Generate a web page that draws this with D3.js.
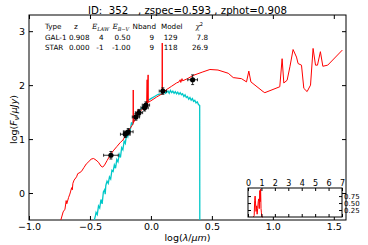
<!DOCTYPE html>
<html>
<head>
<meta charset="utf-8">
<script src="https://cdnjs.cloudflare.com/ajax/libs/d3/7.8.5/d3.min.js"></script>
<style>
body { margin: 0; background: #fff; }
text { font-family: "DejaVu Sans", sans-serif; fill: #000; }
</style>
</head>
<body>
<div id="sed"></div>
<script>
// title + fit summary table
var titleText = "ID:  352   , zspec=0.593 , zphot=0.908";
var tableHead = ["Type", "z", "E_LAW", "E_B-V", "Nband", "Model", "χ2"];
var rowGal = ["GAL-1", "0.908", "4", "0.50", "9", "129", "7.8"];
var rowStar = ["STAR", "0.000", "-1", "-1.00", "9", "118", "26.9"];

// axis ticks
var xTicks = [-1.0, -0.5, 0.0, 0.5, 1.0, 1.5];
var yTicks = [0, 1, 2, 3];
var pzTicksX = [0, 1, 2, 3, 4, 5, 6, 7];
var pzTicksY = [0.25, 0.50, 0.75];

// best-fit galaxy template (log lambda, log flux)
var galX = [-0.745, -0.72, -0.705, -0.695, -0.69, -0.675, -0.665, -0.66, -0.65, -0.645, -0.64, -0.63,
    -0.61, -0.6, -0.59, -0.57, -0.55, -0.53, -0.51, -0.49, -0.47, -0.45, -0.43, -0.41, -0.395,
    -0.38, -0.36, -0.34, -0.31, -0.28, -0.25, -0.23, -0.21, -0.19, -0.17, -0.155, -0.146, -0.145,
    -0.144, -0.13, -0.12, -0.115, -0.11, -0.105, -0.1, -0.08, -0.06, -0.035, -0.031, -0.029,
    -0.023, -0.021, 0.0, 0.047, 0.092, 0.093, 0.094, 0.13, 0.17, 0.21, 0.23, 0.24, 0.245, 0.255,
    0.26, 0.3, 0.347, 0.42, 0.484, 0.55, 0.634, 0.675, 0.743, 0.784, 0.803, 0.82, 0.92, 0.934,
    1.057, 1.076, 1.09, 1.117, 1.14, 1.166, 1.194, 1.207, 1.235, 1.254, 1.281, 1.309, 1.33, 1.35,
    1.366, 1.39, 1.41, 1.45, 1.57];
var galY = [-0.55, -0.35, -0.3, -0.14, -0.2, -0.08, -0.02, 0.02, 0.1, 0.06, 0.18, 0.24,
    0.3, 0.36, 0.37, 0.4, 0.47, 0.54, 0.58, 0.63, 0.64, 0.61, 0.57, 0.5, 0.48,
    0.52, 0.6, 0.68, 0.78, 0.86, 0.94, 0.98, 1.06, 1.12, 1.2, 1.25, 1.28, 1.91,
    1.3, 1.36, 1.4, 1.5, 1.42, 1.55, 1.46, 1.53, 1.6, 1.65, 2.1, 1.66,
    2.19, 1.68, 1.71, 1.78, 1.84, 2.78, 1.85, 1.92, 1.98, 2.04, 2.06, 2.1, 2.05, 2.12,
    2.08, 2.12, 2.18, 2.24, 2.29, 2.28, 2.22, 2.14, 2.12, 2.06, 2.26, 2.06, 1.88, 1.86,
    1.97, 2.49, 2.04, 2.09, 2.34, 2.66, 2.52, 2.4, 2.37, 1.94, 1.88, 2.0, 2.68, 2.37,
    2.37, 2.62, 2.35, 2.37, 2.65];

// best-fit star template
var starX = [-0.47, -0.455, -0.45, -0.44, -0.43, -0.42, -0.41, -0.4, -0.39, -0.38, -0.375, -0.37,
    -0.36, -0.35, -0.34, -0.33, -0.32, -0.31, -0.3, -0.29, -0.28, -0.27, -0.26, -0.25, -0.24,
    -0.23, -0.22, -0.21, -0.2, -0.19, -0.18, -0.17, -0.16, -0.15, -0.14, -0.12, -0.1, -0.08,
    -0.06, -0.04, -0.02, 0.0, 0.03, 0.06, 0.09, 0.11, 0.12, 0.14, 0.15, 0.16, 0.17, 0.18, 0.19,
    0.2, 0.21, 0.22, 0.23, 0.24, 0.25, 0.26, 0.27, 0.28, 0.29, 0.3, 0.31, 0.32, 0.33, 0.34, 0.35,
    0.36, 0.37, 0.38, 0.39, 0.4, 0.401];
var starY = [-0.55, -0.42, -0.36, -0.4, -0.24, -0.28, -0.12, -0.2, 0.02, 0.06, -0.02, 0.14,
    0.22, 0.18, 0.3, 0.26, 0.42, 0.4, 0.52, 0.46, 0.62, 0.58, 0.72, 0.66, 0.84,
    0.8, 0.96, 0.92, 1.08, 1.04, 1.18, 1.16, 1.3, 1.28, 1.38, 1.42, 1.52, 1.56,
    1.62, 1.66, 1.72, 1.75, 1.79, 1.83, 1.84, 1.88, 1.85, 1.89, 1.85, 1.9, 1.86, 1.89, 1.85,
    1.88, 1.84, 1.87, 1.83, 1.86, 1.82, 1.84, 1.79, 1.82, 1.77, 1.79, 1.74, 1.77, 1.72, 1.75, 1.7,
    1.72, 1.67, 1.69, 1.64, 1.62, -0.55];

// observed photometry
var photX = [-0.328, -0.21, -0.186, -0.123, -0.098, -0.052, -0.041, 0.098, 0.342];
var photY = [0.70, 1.09, 1.135, 1.41, 1.49, 1.58, 1.63, 1.89, 2.10];
var photXErr = [0.06, 0.04, 0.04, 0.03, 0.03, 0.03, 0.03, 0.03, 0.04];
var photYErr = [0.07, 0.06, 0.06, 0.06, 0.06, 0.06, 0.06, 0.06, 0.09];

// P(z) inset
var pzZ = [0.4, 0.46, 0.5, 0.53, 0.56, 0.6, 0.64, 0.68, 0.72, 0.76, 0.8, 0.84, 0.88, 0.91, 0.94, 0.97, 1.0, 1.04, 1.1];
var pzP = [0.0, 0.05, 0.6, 0.75, 0.5, 0.2, 0.4, 0.1, 0.3, 0.55, 0.65, 0.3, 0.95, 0.55, 1.0, 0.3, 0.15, 0.0, 0.0];

SedChart = function(_parentElement) {
    this.parentElement = _parentElement;
    this.initVis();
};

SedChart.prototype.initVis = function() {
    var vis = this;

    vis.margin = { top: 15, right: 22, bottom: 25, left: 29 };
    vis.width = 368 - vis.margin.left - vis.margin.right;
    vis.height = 245 - vis.margin.top - vis.margin.bottom;

    vis.root = d3.select('#' + vis.parentElement)
        .append('svg')
        .attr('width', 368)
        .attr('height', 245);

    vis.svg = vis.root.append('g')
        .attr('transform', "translate(" + vis.margin.left + "," + vis.margin.top + ")");

    vis.xScale = d3.scaleLinear().domain([-1.0, 1.6]).range([0, vis.width]);
    vis.yScale = d3.scaleLinear().domain([-0.5, 3.3]).range([vis.height, 0]);

    vis.svg.append('clipPath').attr('id', 'plot-clip')
        .append('rect').attr('width', vis.width).attr('height', vis.height);

    vis.drawAxes();
    vis.drawCurves();
    vis.drawTable();
    vis.drawInset();
};

SedChart.prototype.drawAxes = function() {
    var vis = this;

    var bottom = vis.svg.append('g')
        .attr('transform', "translate(0," + vis.height + ")")
        .call(d3.axisBottom(vis.xScale).tickValues(xTicks).tickFormat(d3.format('.1f'))
            .tickSizeInner(-4).tickSizeOuter(0).tickPadding(3.5));
    var top = vis.svg.append('g')
        .call(d3.axisTop(vis.xScale).tickValues(xTicks).tickFormat('')
            .tickSizeInner(-4).tickSizeOuter(0));
    var left = vis.svg.append('g')
        .call(d3.axisLeft(vis.yScale).tickValues(yTicks).tickFormat(d3.format('d'))
            .tickSizeInner(-4).tickSizeOuter(0).tickPadding(4));
    var right = vis.svg.append('g')
        .attr('transform', "translate(" + vis.width + ",0)")
        .call(d3.axisRight(vis.yScale).tickValues(yTicks).tickFormat('')
            .tickSizeInner(-4).tickSizeOuter(0));

    [bottom, top, left, right].forEach(function(g) {
        g.select('.domain').remove();
        g.selectAll('text').attr('font-size', 9.5).attr('font-family', 'DejaVu Sans');
    });

    vis.svg.append('rect')
        .attr('width', vis.width).attr('height', vis.height)
        .attr('fill', 'none').attr('stroke', '#000').attr('stroke-width', 1);

    vis.root.append('text')
        .attr('x', vis.margin.left + vis.width / 2).attr('y', 14)
        .attr('text-anchor', 'middle').attr('font-size', 10.2)
        .style('white-space', 'pre')
        .text(titleText);

    // y label: log(F_nu / muJy)
    var yl = vis.root.append('text')
        .attr('transform', 'translate(17,' + (vis.margin.top + vis.height / 2 + 2) + ') rotate(-90)')
        .attr('text-anchor', 'middle')
        .attr('font-family', 'DejaVu Serif').attr('font-size', 9.5);
    yl.append('tspan').text('log(');
    yl.append('tspan').attr('font-style', 'italic').text('F');
    yl.append('tspan').attr('font-style', 'italic').attr('font-size', 7).attr('dy', 2).text('ν');
    yl.append('tspan').attr('dy', -2).text('/');
    yl.append('tspan').attr('font-style', 'italic').text('μJy');
    yl.append('tspan').text(')');

    var xl = vis.root.append('text')
        .attr('x', vis.margin.left + vis.width / 2).attr('y', 240.5)
        .attr('text-anchor', 'middle')
        .attr('font-family', 'DejaVu Serif').attr('font-size', 9.5);
    xl.append('tspan').text('log(');
    xl.append('tspan').attr('font-style', 'italic').text('λ');
    xl.append('tspan').text('/');
    xl.append('tspan').attr('font-style', 'italic').text('μm');
    xl.append('tspan').text(')');
};

SedChart.prototype.drawCurves = function() {
    var vis = this;

    var line = d3.line()
        .x(function(d) { return vis.xScale(d[0]); })
        .y(function(d) { return vis.yScale(d[1]); });

    var plot = vis.svg.append('g').attr('clip-path', 'url(#plot-clip)');

    plot.append('path')
        .datum(d3.zip(starX, starY))
        .attr('d', line)
        .attr('fill', 'none').attr('stroke', '#00c8c8').attr('stroke-width', 1.3);

    plot.append('path')
        .datum(d3.zip(galX, galY))
        .attr('d', line)
        .attr('fill', 'none').attr('stroke', '#ff0000').attr('stroke-width', 1);

    var pts = d3.zip(photX, photY, photXErr, photYErr);
    var eb = plot.selectAll('.err').data(pts).enter().append('g').attr('class', 'err');

    eb.append('line')
        .attr('x1', function(d) { return vis.xScale(d[0] - d[2]); })
        .attr('x2', function(d) { return vis.xScale(d[0] + d[2]); })
        .attr('y1', function(d) { return vis.yScale(d[1]); })
        .attr('y2', function(d) { return vis.yScale(d[1]); });
    eb.append('line')
        .attr('x1', function(d) { return vis.xScale(d[0]); })
        .attr('x2', function(d) { return vis.xScale(d[0]); })
        .attr('y1', function(d) { return vis.yScale(d[1] - d[3]); })
        .attr('y2', function(d) { return vis.yScale(d[1] + d[3]); });
    // caps
    [-1, 1].forEach(function(s) {
        eb.append('line')
            .attr('x1', function(d) { return vis.xScale(d[0] + s * d[2]); })
            .attr('x2', function(d) { return vis.xScale(d[0] + s * d[2]); })
            .attr('y1', function(d) { return vis.yScale(d[1]) - 1.5; })
            .attr('y2', function(d) { return vis.yScale(d[1]) + 1.5; });
        eb.append('line')
            .attr('x1', function(d) { return vis.xScale(d[0]) - 1.5; })
            .attr('x2', function(d) { return vis.xScale(d[0]) + 1.5; })
            .attr('y1', function(d) { return vis.yScale(d[1] + s * d[3]); })
            .attr('y2', function(d) { return vis.yScale(d[1] + s * d[3]); });
    });
    eb.selectAll('line').attr('stroke', '#000').attr('stroke-width', 0.8);

    eb.append('circle')
        .attr('cx', function(d) { return vis.xScale(d[0]); })
        .attr('cy', function(d) { return vis.yScale(d[1]); })
        .attr('r', 2.6)
        .attr('fill', '#000');
};

SedChart.prototype.drawTable = function() {
    var vis = this;

    var headX = [45, 74, 92, 112.5, 132.5, 161, 195.5];
    var colEnd = [45, 89.5, 103.5, 130.5, 154, 177.5, 208];
    var fs = 7.2;

    var head = vis.root.append('g').attr('font-size', fs);
    tableHead.forEach(function(h, i) {
        var t = head.append('text').attr('x', headX[i]).attr('y', 29);
        if (h === 'E_LAW' || h === 'E_B-V') {
            t.append('tspan').attr('font-family', 'DejaVu Serif').attr('font-style', 'italic').text('E');
            t.append('tspan').attr('font-family', 'DejaVu Serif').attr('font-style', 'italic')
                .attr('font-size', 5).attr('dy', 1.5).text(h === 'E_LAW' ? 'LAW' : 'B−V');
        } else if (h === 'χ2') {
            t.append('tspan').attr('font-family', 'DejaVu Serif').attr('font-style', 'italic').text('χ');
            t.append('tspan').attr('font-size', 5).attr('dy', -3).text('2');
        } else {
            t.text(h);
        }
    });

    [rowGal, rowStar].forEach(function(row, r) {
        row.forEach(function(cell, i) {
            vis.root.append('text')
                .attr('x', colEnd[i]).attr('y', 39.5 + r * 10.8)
                .attr('text-anchor', i === 0 ? 'start' : 'end')
                .attr('font-size', fs)
                .text(cell);
        });
    });
};

SedChart.prototype.drawInset = function() {
    var vis = this;

    var x0 = 248, x1 = 342, y0 = 188, y1 = 217;
    var px = d3.scaleLinear().domain([0, 7]).range([x0, x1]);
    var py = d3.scaleLinear().domain([0, 1.04]).range([y1, y0]);

    var g = vis.root.append('g');
    g.append('rect')
        .attr('x', x0).attr('y', y0).attr('width', x1 - x0).attr('height', y1 - y0)
        .attr('fill', '#fff');

    g.append('path')
        .datum(d3.zip(pzZ, pzP))
        .attr('d', d3.line().x(function(d) { return px(d[0]); }).y(function(d) { return py(d[1]); }))
        .attr('fill', 'none').attr('stroke', '#ff0000').attr('stroke-width', 1);

    var axes = [
        g.append('g').attr('transform', 'translate(0,' + y0 + ')')
            .call(d3.axisTop(px).tickValues(pzTicksX).tickFormat(d3.format('d')).tickSizeInner(-3).tickSizeOuter(0).tickPadding(2)),
        g.append('g').attr('transform', 'translate(0,' + y1 + ')')
            .call(d3.axisBottom(px).tickValues(pzTicksX).tickFormat('').tickSizeInner(-3).tickSizeOuter(0)),
        g.append('g').attr('transform', 'translate(' + x0 + ',0)')
            .call(d3.axisLeft(py).tickValues(pzTicksY).tickFormat('').tickSizeInner(-3).tickSizeOuter(0)),
        g.append('g').attr('transform', 'translate(' + x1 + ',0)')
            .call(d3.axisRight(py).tickValues(pzTicksY).tickFormat(d3.format('.2f')).tickSizeInner(-3).tickSizeOuter(0).tickPadding(2))
    ];
    axes.forEach(function(a, i) {
        a.select('.domain').remove();
        a.selectAll('text').attr('font-size', i === 3 ? 7 : 8).attr('font-family', 'DejaVu Sans');
    });

    g.append('rect')
        .attr('x', x0).attr('y', y0).attr('width', x1 - x0).attr('height', y1 - y0)
        .attr('fill', 'none').attr('stroke', '#000').attr('stroke-width', 1);
};

var chart = new SedChart('sed');
</script>
</body>
</html>
